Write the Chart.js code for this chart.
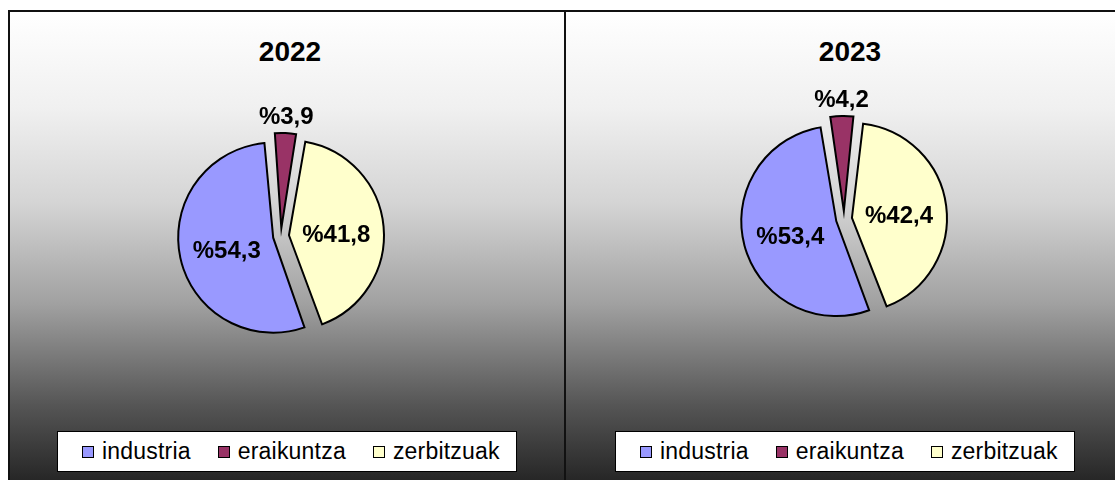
<!DOCTYPE html>
<html>
<head>
<meta charset="utf-8">
<script src="https://cdn.jsdelivr.net/npm/chart.js@4.4.0/dist/chart.umd.min.js"></script>
<style>
  html, body { margin: 0; padding: 0; background: #fff; overflow: hidden; }
  body { width: 1115px; height: 480px; position: relative; font-family: "Liberation Sans", Arial, sans-serif; }
  .panel {
    position: absolute; top: 10px; height: 480px; border: 2px solid #111; border-bottom: none;
    background: linear-gradient(to bottom, #ffffff 0%, #f0f0f0 20%, #d4d4d4 40%, #a0a0a0 61%, #555555 82%, #1f1f1f 100%);
  }
  .title { position: absolute; top: 36px; width: 300px; height: 32px; line-height: 32px; text-align: center; font-size: 28px; font-weight: bold; color: #000; }
  canvas { position: absolute; }
  .legend {
    position: absolute; top: 431px; width: 460px; height: 41px; background: #fff; border: 1px solid #000;
    display: flex; align-items: center; padding-left: 24px; box-sizing: border-box;
  }
  .legend .item { display: flex; align-items: center; margin-right: 27px; font-size: 23px; letter-spacing: 0.2px; color: #000; }
  .legend .sw { width: 10px; height: 10px; border: 1px solid #000; margin-right: 8px; }
</style>
</head>
<body>
<div class="panel" style="left:8px; width:554px;"></div>
<div class="panel" style="left:564px; width:560px;"></div>

<div class="title" style="left:140px;" id="t0"></div>
<div class="title" style="left:700px;" id="t1"></div>

<canvas id="pie0" width="542" height="448" style="left:10px; top:12px;"></canvas>
<canvas id="pie1" width="556" height="414" style="left:566px; top:12px;"></canvas>

<div class="legend" style="left:57px;" id="lg0"></div>
<div class="legend" style="left:615px;" id="lg1"></div>

<script>
const years = ["2022", "2023"];
const categories = ["industria", "eraikuntza", "zerbitzuak"];
const values2022 = [54.3, 3.9, 41.8];
const values2023 = [53.4, 4.2, 42.4];
const colors = ["#9999ff", "#993366", "#ffffcc"];

const OFFSET = 32;   // chart.js moves each slice offset/4 px out
const RADIUS = 95;

// keep all slices at the same radius (chart.js grows exploded arcs a bit)
const sameRadius = {
  id: "sameRadius",
  afterDatasetUpdate(chart, args) {
    args.meta.data.forEach(arc => {
      const fix = 1 - Math.sin(Math.min(Math.PI, arc.circumference));
      arc.outerRadius -= (OFFSET / 4) * fix;
    });
  }
};

// "%54,3" style labels
const pctLabels = {
  id: "pctLabels",
  afterDatasetsDraw(chart) {
    const ctx = chart.ctx;
    const meta = chart.getDatasetMeta(0);
    const data = chart.data.datasets[0].data;
    ctx.save();
    ctx.font = "bold 24px 'Liberation Sans', Arial, sans-serif";
    ctx.fillStyle = "#000";
    ctx.textAlign = "center";
    ctx.textBaseline = "middle";
    meta.data.forEach((arc, i) => {
      const mid = (arc.startAngle + arc.endAngle) / 2;
      const small = data[i] < 10;
      const d = OFFSET / 4 + (small ? RADIUS + 17 : RADIUS * 0.5);
      const x = arc.x + Math.cos(mid) * d;
      const y = arc.y + Math.sin(mid) * d + (small ? 1 : 4);
      ctx.fillText("%" + data[i].toFixed(1).replace(".", ","), x, y);
    });
    ctx.restore();
  }
};

function makePie(canvasId, values, rotation) {
  return new Chart(document.getElementById(canvasId), {
    type: "pie",
    data: {
      labels: categories,
      datasets: [{
        data: values,
        backgroundColor: colors,
        borderColor: "#000",
        borderWidth: 2,
        borderJoinStyle: "miter",
        offset: OFFSET,
        rotation: rotation,
        radius: RADIUS,
      }],
    },
    options: {
      responsive: false,
      animation: false,
      events: [],
      layout: { padding: 0 },
      plugins: {
        legend: { display: false },
        title: { display: false },
        tooltip: { enabled: false },
      },
    },
    plugins: [sameRadius, pctLabels],
  });
}

makePie("pie0", values2022, 160);
makePie("pie1", values2023, 159);

years.forEach((y, k) => {
  document.getElementById("t" + k).textContent = y;
  const lg = document.getElementById("lg" + k);
  categories.forEach((c, i) => {
    const item = document.createElement("div");
    item.className = "item";
    item.innerHTML = `<span class="sw" style="background:${colors[i]}"></span><span>${c}</span>`;
    lg.appendChild(item);
  });
});
</script>
</body>
</html>
